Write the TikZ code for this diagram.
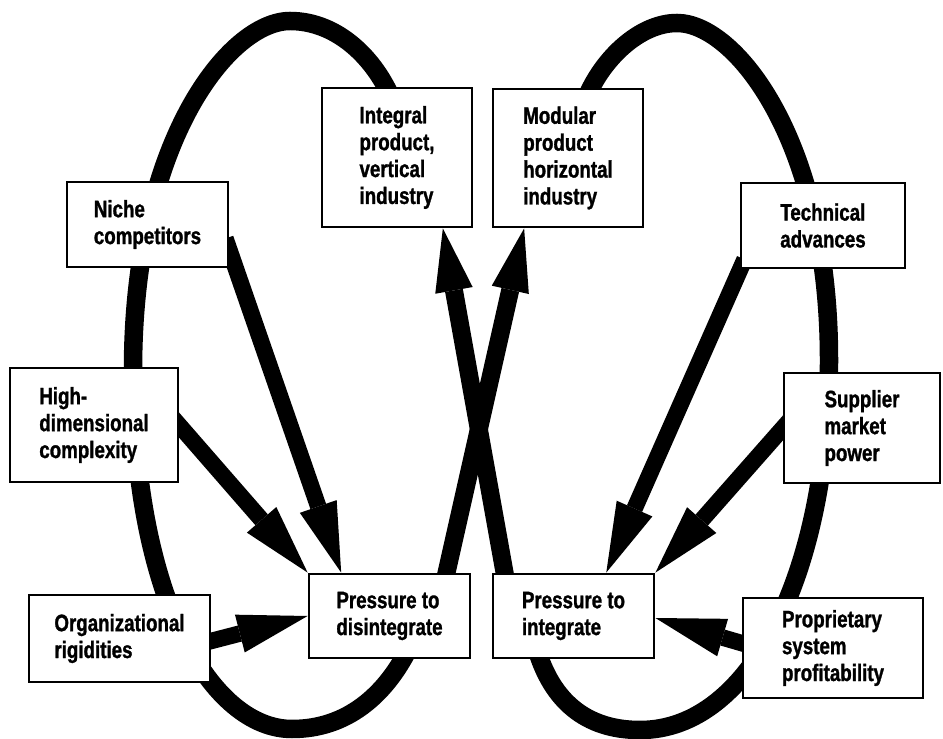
\documentclass[tikz,border=0pt]{standalone}
\usepackage{fontspec}
\newfontfamily\boxfont{Liberation Sans}[UprightFont={* Bold},BoldFont={* Bold},FakeStretch=0.79,FakeBold=1.2]
\usetikzlibrary{arrows.meta,calc,backgrounds}
\begin{document}
\begin{tikzpicture}[x=0.02cm,y=-0.02cm,
  box/.style={draw,line width=1.6pt,fill=white,inner sep=0pt,align=left,
    font=\boxfont\fontsize{13.5}{15.3}\selectfont},
  wh/.style 2 args={minimum width=#1*0.02cm,minimum height=#2*0.02cm},
  loopline/.style={line width=0.37cm,line cap=butt},
  sidearrow/.style={line width=0.33cm,-{Triangle[length=1.4cm,width=0.78cm,line width=0pt]}},
  midarrow/.style={line width=0.36cm,-{Triangle[length=1.26cm,width=0.76cm,line width=0pt]}}]
\useasboundingbox (0,0) rectangle (943,739);
% boxes
\node[box,wh={161}{85}]  (niche)       at (147.5,224.5) {Niche\\competitors};
\node[box,wh={150}{139}] (integral)    at (397,157.5)   {Integral\\product,\\vertical\\industry};
\node[box,wh={150}{138}] (modular)     at (568,158)     {Modular\\product\\horizontal\\industry};
\node[box,wh={164}{85}]  (technical)   at (823,225.5)   {Technical\\advances};
\node[box,wh={168}{114}] (highdim)     at (94,425)      {High-\\dimensional\\complexity};
\node[box,wh={181}{87}]  (org)         at (119.5,638.5) {Organizational\\rigidities};
\node[box,wh={161}{84}]  (pd)          at (389.5,616)   {Pressure to\\disintegrate};
\node[box,wh={161}{84}]  (pi)          at (573.5,616)   {Pressure to\\integrate};
\node[box,wh={156}{110}] (supplier)    at (862,428)     {Supplier\\market\\power};
\node[box,wh={180}{100}] (proprietary) at (833,648)     {Proprietary\\system\\profitability};
% loop end points
\coordinate (LA) at ($(integral.north west)!0.433!(integral.north east)$);
\coordinate (LB) at ($(pd.south west)!0.584!(pd.south east)$);
\coordinate (RA) at ($(modular.north west)!0.647!(modular.north east)$);
\coordinate (RB) at ($(pi.south west)!0.3!(pi.south east)$);
\begin{scope}[on background layer]
  % left loop
  \draw[loopline] ($(LA)+(4,10)$) .. controls (372,55) and (335,21) .. (290,21)
     .. controls (230,21) and (133,140) .. (133,370)
     .. controls (133,600) and (212,729) .. (292,729)
     .. controls (347,729) and (385,695) .. ($(LB)+(5,-10)$);
  % right loop
  \draw[loopline] ($(RA)+(-4,10)$) .. controls (603,58) and (640,23) .. (677,23)
     .. controls (735,23) and (829,140) .. (829,360)
     .. controls (829,570) and (752,730) .. (640,730)
     .. controls (585,730) and (552,700) .. ($(RB)+(-4,-10)$);
  % central arrows
  \draw[midarrow] ($(pd.north west)!0.85!(pd.north east)+(-3,12)$) -- ($(modular.south west)!0.213!(modular.south east)$);
  \draw[midarrow] ($(pi.north west)!0.08!(pi.north east)+(2,12)$) -- ($(integral.south west)!0.8!(integral.south east)$);
  % side arrows
  \draw[sidearrow] ($(niche.east)+(-4,14)$) -- ($(pd.north west)!0.205!(pd.north east)$);
  \draw[sidearrow] ($(highdim.east)+(-10,-11)$) -- (pd.north west);
  \draw[sidearrow] ($(org.east)+(-10,5)$) -- (pd.west);
  \draw[sidearrow] ($(technical.south west)+(5,-10)$) -- ($(pi.north west)!0.7!(pi.north east)$);
  \draw[sidearrow] ($(supplier.west)+(10,-11)$) -- (pi.north east);
  \draw[sidearrow] ($(proprietary.west)+(10,-2)$) -- ($(pi.east)+(0,2)$);
\end{scope}
\end{tikzpicture}
\end{document}
